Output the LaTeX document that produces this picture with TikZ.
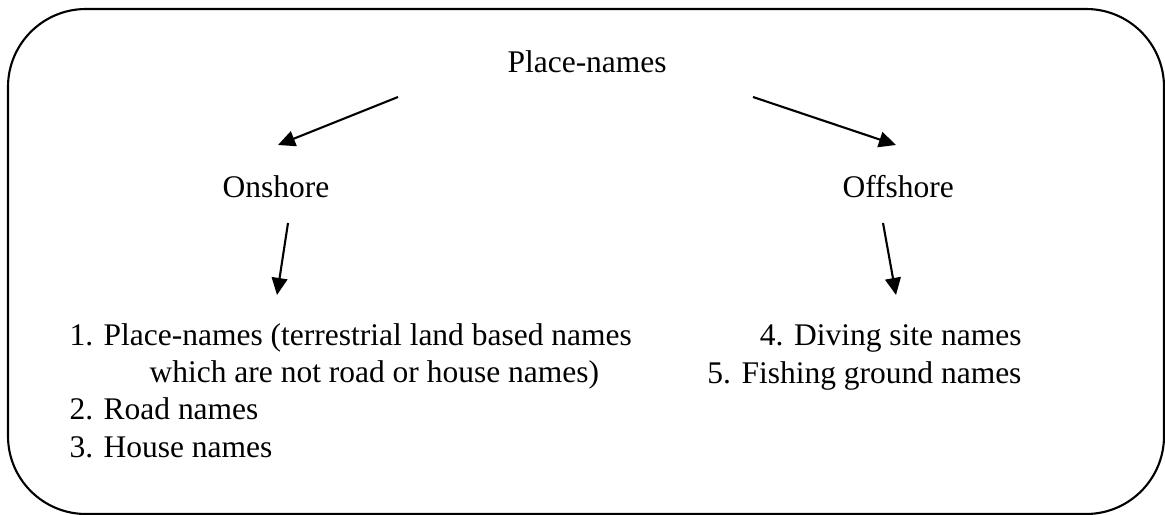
\documentclass[tikz,border=0pt]{standalone}
\usepackage{fontspec}
\setmainfont{Liberation Serif}
\usetikzlibrary{arrows.meta}
\tikzset{
  txt/.style={inner sep=0, font=\fontsize{12}{14.1}\selectfont},
  arr/.style={-{Triangle[length=6.5pt,width=6pt]}, line width=0.8pt}
}
\begin{document}
\begin{tikzpicture}[x=0.381pt, y=-0.381pt]
\useasboundingbox (0,0) rectangle (1165,514);
\draw[line width=0.8pt, rounded corners=29.7pt] (8,9) rectangle (1164,514);
\node[txt, anchor=base west] (top) at (507,73) {Place-names};
\node[txt, anchor=base west] (onshore) at (222,198) {Onshore};
\node[txt, anchor=base west] (offshore) at (842,198) {Offshore};
\node[txt, anchor=base west, align=left] (onlist) at (69,457) {1. Place-names (terrestrial land based names\\
  \hspace*{30.5pt}which are not road or house names)\\
  2. Road names\\
  3. House names};
\node[txt, anchor=base east, align=right] (offlist) at (1022,383) {4. Diving site names\\
  5. Fishing ground names};
\coordinate (t1) at (398,97); \coordinate (h1) at (278,145);
\coordinate (t2) at (753,97); \coordinate (h2) at (896,145);
\coordinate (t3) at (288,223); \coordinate (h3) at (277,295);
\coordinate (t4) at (883,223); \coordinate (h4) at (896,295);
\foreach \i in {1,...,4}
\draw[arr] (t\i) -- (h\i);
\end{tikzpicture}
\end{document}
